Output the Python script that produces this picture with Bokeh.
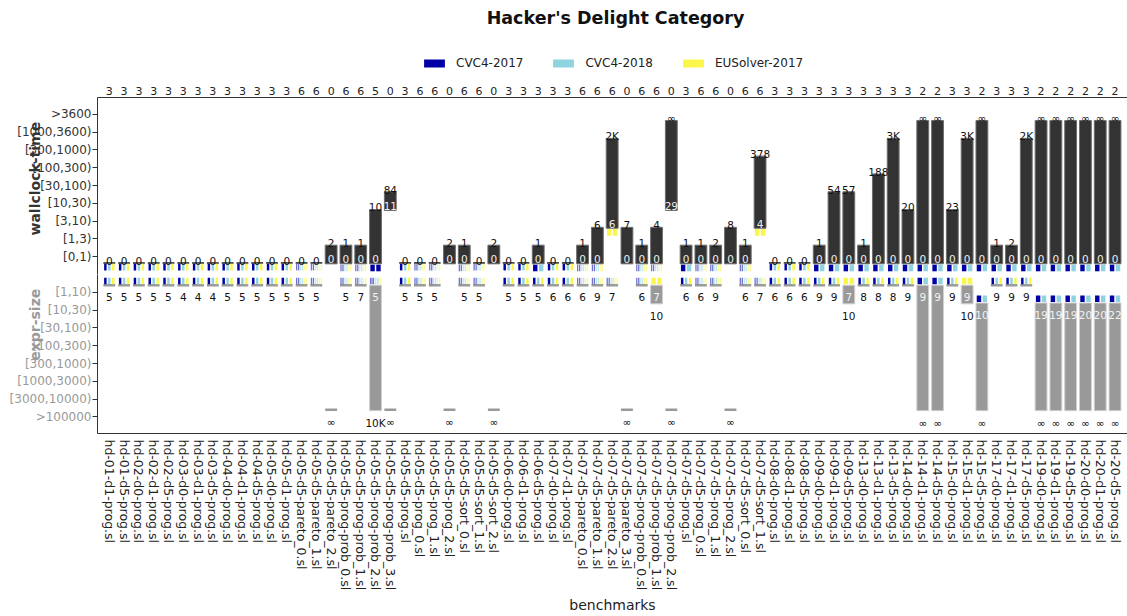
import math
from bokeh.plotting import figure
from bokeh.layouts import column
from bokeh.models import (ColumnDataSource, FixedTicker, LinearAxis, Range1d, Label,
                          Legend, LegendItem)
from bokeh.embed import file_html
from bokeh.resources import INLINE
from bokeh.core.properties import value

INF = float("inf")

# ---------------- data ----------------
benchmarks = [
    "hd-01-d1-prog.sl", "hd-01-d5-prog.sl", "hd-02-d0-prog.sl", "hd-02-d1-prog.sl", "hd-02-d5-prog.sl",
    "hd-03-d0-prog.sl", "hd-03-d1-prog.sl", "hd-03-d5-prog.sl", "hd-04-d0-prog.sl", "hd-04-d1-prog.sl",
    "hd-04-d5-prog.sl", "hd-05-d0-prog.sl", "hd-05-d1-prog.sl", "hd-05-d5-pareto_0.sl", "hd-05-d5-pareto_1.sl",
    "hd-05-d5-pareto_2.sl", "hd-05-d5-prog-prob_0.sl", "hd-05-d5-prog-prob_1.sl", "hd-05-d5-prog-prob_2.sl", "hd-05-d5-prog-prob_3.sl",
    "hd-05-d5-prog.sl", "hd-05-d5-prog_0.sl", "hd-05-d5-prog_1.sl", "hd-05-d5-prog_2.sl", "hd-05-d5-sort_0.sl",
    "hd-05-d5-sort_1.sl", "hd-05-d5-sort_2.sl", "hd-06-d0-prog.sl", "hd-06-d1-prog.sl", "hd-06-d5-prog.sl",
    "hd-07-d0-prog.sl", "hd-07-d1-prog.sl", "hd-07-d5-pareto_0.sl", "hd-07-d5-pareto_1.sl", "hd-07-d5-pareto_2.sl",
    "hd-07-d5-pareto_3.sl", "hd-07-d5-prog-prob_0.sl", "hd-07-d5-prog-prob_1.sl", "hd-07-d5-prog-prob_2.sl", "hd-07-d5-prog.sl",
    "hd-07-d5-prog_0.sl", "hd-07-d5-prog_1.sl", "hd-07-d5-prog_2.sl", "hd-07-d5-sort_0.sl", "hd-07-d5-sort_1.sl",
    "hd-08-d0-prog.sl", "hd-08-d1-prog.sl", "hd-08-d5-prog.sl", "hd-09-d0-prog.sl", "hd-09-d1-prog.sl",
    "hd-09-d5-prog.sl", "hd-13-d0-prog.sl", "hd-13-d1-prog.sl", "hd-13-d5-prog.sl", "hd-14-d0-prog.sl",
    "hd-14-d1-prog.sl", "hd-14-d5-prog.sl", "hd-15-d0-prog.sl", "hd-15-d1-prog.sl", "hd-15-d5-prog.sl",
    "hd-17-d0-prog.sl", "hd-17-d1-prog.sl", "hd-17-d5-prog.sl", "hd-19-d0-prog.sl", "hd-19-d1-prog.sl",
    "hd-19-d5-prog.sl", "hd-20-d0-prog.sl", "hd-20-d1-prog.sl", "hd-20-d5-prog.sl",
]

run_counts = [3, 3, 3, 3, 3, 3, 3, 3, 3, 3, 3, 3, 3, 6, 6, 0, 6, 6, 5, 0,
              3, 6, 6, 0, 6, 6, 0, 3, 3, 3, 3, 3, 6, 6, 6, 0, 6, 6, 0, 3,
              6, 6, 0, 6, 6, 3, 3, 3, 3, 3, 3, 3, 3, 3, 3, 2, 2, 3, 3, 2,
              3, 3, 3, 2, 2, 2, 2, 2, 2]

time_min = [0, 0, 0, 0, 0, 0, 0, 0, 0, 0, 0, 0, 0, 0, 0, 0, 0, 0, 0, 11,
            0, 0, 0, 0, 0, 0, 0, 0, 0, 0, 0, 0, 0, 0, 6, 0, 0, 0, 29, 0,
            0, 0, 0, 0, 4, 0, 0, 0, 0, 0, 0, 0, 0, 0, 0, 0, 0, 0, 0, 0,
            0, 0, 0, 0, 0, 0, 0, 0, 0]

time_max = [0, 0, 0, 0, 0, 0, 0, 0, 0, 0, 0, 0, 0, 0, 0, 2, 1, 1, 10, 84,
            0, 0, 0, 2, 1, 0, 2, 0, 0, 1, 0, 0, 1, 6, 2000, 7, 1, 4, INF, 1,
            1, 2, 8, 1, 378, 0, 0, 0, 1, 54, 57, 1, 188, 3000, 20, INF, INF, 23, 3000, INF,
            1, 2, 2000, INF, INF, INF, INF, INF, INF]

size_min = [5, 5, 5, 5, 5, 4, 4, 4, 5, 5, 5, 5, 5, 5, 5, INF, 5, 7, 5, INF,
            5, 5, 5, INF, 5, 5, INF, 5, 5, 5, 6, 6, 6, 9, 7, INF, 6, 7, INF, 6,
            6, 9, INF, 6, 7, 6, 6, 6, 9, 9, 7, 8, 8, 8, 9, 9, 9, 9, 9, 10,
            9, 9, 9, 19, 19, 19, 20, 20, 22]

size_max = [5, 5, 5, 5, 5, 4, 4, 4, 5, 5, 5, 5, 5, 5, 5, INF, 5, 7, 10000, INF,
            5, 5, 5, INF, 5, 5, INF, 5, 5, 5, 6, 6, 6, 9, 7, INF, 6, 10, INF, 6,
            6, 9, INF, 6, 7, 6, 6, 6, 9, 9, 10, 8, 8, 8, 9, INF, INF, 9, 10, INF,
            9, 9, 9, INF, INF, INF, INF, INF, INF]

# which solver runs reached the best time / best size (b=CVC4-2017, c=CVC4-2018, y=EUSolver-2017)
time_best = (["bcy"] * 13
             + ["bbccyy", "bbccyy", "", "bbccyy", "bbccyy", "bb", ""]
             + ["bcy", "bbccyy", "bbccyy", "", "bbccyy", "bbccyy", "", "bcy", "bcy", "bc"]
             + ["bcy", "bcy", "bbccyy", "bbccyy", "yy", "", "bbccyy", "bbccyy", "", "bc"]
             + ["bbccyy", "bbccyy", "", "bbccyy", "yy", "bcy", "bcy", "bcy"]
             + ["bc"] * 21)
size_best = (["bcy"] * 13
             + ["bbccyy", "bbccyy", "", "bbccyy", "bbccyy", "bbccy", ""]
             + ["bcy", "bbccyy", "bbccyy", "", "bbccyy", "bbccyy", "", "bcy", "bcy", "bcy"]
             + ["bcy", "bcy", "bbccyy", "bbccyy", "bbccyy", "", "bbccyy", "yy", "", "bcy"]
             + ["bbccyy", "bbccyy", "", "bbccyy", "bbccyy", "bcy", "bcy", "bcy", "bcy", "bcy"]
             + ["yy", "bcy", "bcy", "bcy", "bcy", "bc", "bc", "bcy", "yy", "bc"]
             + ["bcy"] * 3 + ["bc"] * 6)

time_labels = ["[0,1)", "[1,3)", "[3,10)", "[10,30)", "[30,100)", "[100,300)",
               "[300,1000)", "[1000,3600)", ">3600"]
size_labels = ["[1,10)", "[10,30)", "[30,100)", "[100,300)", "[300,1000)",
               "[1000,3000)", "[3000,10000)", ">100000"]
time_edges = [0, 1, 3, 10, 30, 100, 300, 1000, 3600]
size_edges = [1, 10, 30, 100, 300, 1000, 3000, 10000]

solvers = ["CVC4-2017", "CVC4-2018", "EUSolver-2017"]
solver_codes = ["b", "c", "y"]
solver_colors = ["#0000a6", "#8fd3e1", "#fbf64c"]

# ---------------- layout ----------------
W = 1127
H_HEAD, H_TOP, H_BOT = 81, 193, 342
B_LEFT = 97
TOP_AX = 16            # counts axis panel above the upper frame
B_BOTTOM = 183
XS, YS = 14.79, 17.8   # px per unit
FRAME_W = W - B_LEFT
X0 = 1 - 11.8 / XS
X1 = X0 + FRAME_W / XS
Y_TOP = (H_TOP - TOP_AX) / YS
Y_BOT = -(H_BOT - B_BOTTOM) / YS
BAR_W = 0.8
FONT = "DejaVu Sans"
NB = "\u00a0"
x_range = Range1d(X0, X1)


def tidx(v):
    if v == INF:
        return 9
    return sum(1 for e in time_edges if v >= e)


def sidx(v):
    if v == INF:
        return 8
    return sum(1 for e in size_edges if v >= e)


def fmt(v):
    if v == INF:
        return "\u221e"
    if v >= 1000:
        return "%dK" % round(v / 1000)
    return "%d" % v


xs = list(range(1, len(benchmarks) + 1))


def style_axis(ax, size, color):
    ax.major_label_text_font = FONT
    ax.major_label_text_font_size = size
    ax.major_label_text_color = color
    ax.minor_tick_out = 0
    ax.minor_tick_in = 0
    ax.major_tick_in = 0
    ax.axis_line_color = "#333333"
    ax.major_tick_line_color = "#333333"


def base_fig(h, y_range, top, bottom):
    f = figure(width=W, height=h, x_range=x_range, y_range=y_range,
               output_backend="svg", toolbar_location=None, title=None,
               x_axis_location="below" if bottom else None,
               min_border_left=B_LEFT, min_border_right=0,
               min_border_top=top, min_border_bottom=bottom)
    f.outline_line_color = None
    f.grid.visible = False
    f.background_fill_color = "white"
    f.border_fill_color = "white"
    return f


# ---- header (title + legend); its frame spans x = B_LEFT..W ----
ph = figure(width=W, height=H_HEAD, x_range=Range1d(B_LEFT, W), y_range=Range1d(H_HEAD, 0),
            output_backend="svg", toolbar_location=None, title=None,
            x_axis_location=None, y_axis_location=None,
            min_border_left=B_LEFT, min_border_right=0, min_border_top=0, min_border_bottom=0)
ph.outline_line_color = None
ph.grid.visible = False
ph.add_layout(Label(x=615, y=17, text="Hacker's Delight Category", text_font=FONT,
                    text_font_size="17.5px", text_font_style="bold", text_color="#111111",
                    text_align="center", text_baseline="middle"))
items = []
for name, col in zip(solvers, solver_colors):
    # legend-only renderer, kept outside the visible range
    r = ph.quad(left=[0], right=[1], bottom=[0], top=[1], fill_color=col, line_color=None)
    items.append(LegendItem(label=name, renderers=[r]))
legend = Legend(items=items, orientation="horizontal", location=(421 - B_LEFT, H_HEAD - 70),
                glyph_width=26, glyph_height=10, label_standoff=9, spacing=27,
                padding=0, margin=0, border_line_color=None, background_fill_alpha=0,
                label_text_font=FONT, label_text_font_size="12px", label_text_color="#222222")
ph.add_layout(legend, "center")

# ---- upper half: wallclock-time ----
p1 = base_fig(H_TOP, Range1d(0, Y_TOP), TOP_AX, 0)
# ---- lower half: expr-size ----
p2 = base_fig(H_BOT, Range1d(Y_BOT, 0), 0, B_BOTTOM)

tbox = dict(left=[], right=[], bottom=[], top=[])
tline = dict(x0=[], x1=[], y=[])
ttxt = dict(x=[], y=[], t=[])
tin = dict(x=[], y=[], t=[])
sbox = dict(left=[], right=[], bottom=[], top=[])
sline = dict(x0=[], x1=[], y=[])
stxt = dict(x=[], y=[], t=[])
sin = dict(x=[], y=[], t=[])
sq_t = {c: dict(left=[], right=[], bottom=[], top=[], alpha=[]) for c in solver_codes}
sq_s = {c: dict(left=[], right=[], bottom=[], top=[], alpha=[]) for c in solver_codes}


def add_squares(store, x, code, y0, y1):
    n = len(code)
    if n == 0:
        return
    cell = BAR_W / n
    gap = 0.1 if n <= 3 else 0.045
    a = 1.0 if n <= 3 else 0.55
    for k, ch in enumerate(code):
        l = x - BAR_W / 2 + k * cell + gap / 2
        store[ch]["left"].append(l)
        store[ch]["right"].append(l + cell - gap)
        store[ch]["bottom"].append(y0)
        store[ch]["top"].append(y1)
        store[ch]["alpha"].append(a)


for i, x in enumerate(xs):
    lo, hi = time_min[i], time_max[i]
    if hi > lo:
        b = tidx(lo) - 0.4
        t = tidx(hi) - 0.35
        tbox["left"].append(x - BAR_W / 2); tbox["right"].append(x + BAR_W / 2)
        tbox["bottom"].append(b); tbox["top"].append(t)
        tin["x"].append(x); tin["y"].append(b + 0.25); tin["t"].append(fmt(lo))
    else:
        b = t = tidx(hi) - 0.35
        tline["x0"].append(x - BAR_W / 2); tline["x1"].append(x + BAR_W / 2); tline["y"].append(b)
    ttxt["x"].append(x); ttxt["y"].append(t + 0.12); ttxt["t"].append(fmt(hi))
    add_squares(sq_t, x, time_best[i], b - 0.42, b - 0.05)

    lo, hi = size_min[i], size_max[i]
    if hi > lo:
        t = -(sidx(lo) - 0.4)
        b = -(sidx(hi) - 0.35)
        sbox["left"].append(x - BAR_W / 2); sbox["right"].append(x + BAR_W / 2)
        sbox["bottom"].append(b); sbox["top"].append(t)
        sin["x"].append(x); sin["y"].append(t - 0.68); sin["t"].append(fmt(lo))
    else:
        t = b = -(sidx(hi) - 0.4)
        sline["x0"].append(x - BAR_W / 2); sline["x1"].append(x + BAR_W / 2); sline["y"].append(b)
    stxt["x"].append(x); stxt["y"].append(b - 0.68); stxt["t"].append(fmt(hi))
    add_squares(sq_s, x, size_best[i], t + 0.05, t + 0.42)

p1.quad(left="left", right="right", bottom="bottom", top="top", source=ColumnDataSource(tbox),
        fill_color="#333333", line_color="#6e6e6e", line_width=1)
p1.segment(x0="x0", x1="x1", y0="y", y1="y", source=ColumnDataSource(tline),
           line_color="#222222", line_width=1.5)
p2.quad(left="left", right="right", bottom="bottom", top="top", source=ColumnDataSource(sbox),
        fill_color="#999999", line_color="#cfcfcf", line_width=1)
p2.segment(x0="x0", x1="x1", y0="y", y1="y", source=ColumnDataSource(sline),
           line_color="#999999", line_width=2.5)

for code, col in zip(solver_codes, solver_colors):
    p1.quad(left="left", right="right", bottom="bottom", top="top", source=ColumnDataSource(sq_t[code]),
            fill_color=col, fill_alpha="alpha", line_color=None)
    p2.quad(left="left", right="right", bottom="bottom", top="top", source=ColumnDataSource(sq_s[code]),
            fill_color=col, fill_alpha="alpha", line_color=None)

txt_kw = dict(text_font=value(FONT), text_font_size="10.5px", text_align="center",
              text_baseline="alphabetic")
p1.text(x="x", y="y", text="t", source=ColumnDataSource(ttxt), text_color="#111111", **txt_kw)
p1.text(x="x", y="y", text="t", source=ColumnDataSource(tin), text_color="#eeeeee", **txt_kw)
p2.text(x="x", y="y", text="t", source=ColumnDataSource(stxt), text_color="#111111", **txt_kw)
p2.text(x="x", y="y", text="t", source=ColumnDataSource(sin), text_color="#f2f2f2", **txt_kw)

# ---- axes ----
ya1 = p1.yaxis[0]
ya1.ticker = FixedTicker(ticks=list(range(0, len(time_labels) + 1)))
ov1 = {0: ""}
for k, lab in enumerate(time_labels, start=1):
    ov1[k] = lab
ya1.major_label_overrides = ov1
style_axis(ya1, "12px", "#333333")
ya1.major_label_standoff = 1
ya1.major_tick_out = 5
ya1.axis_label = NB * 3 + "wallclock-time"
ya1.axis_label_text_font = FONT
ya1.axis_label_text_font_size = "14px"
ya1.axis_label_text_font_style = "bold"
ya1.axis_label_text_color = "#333333"
ya1.axis_label_standoff = -29

top_ax = LinearAxis(ticker=FixedTicker(ticks=xs),
                    major_label_overrides={x: str(c) for x, c in zip(xs, run_counts)})
style_axis(top_ax, "11px", "#222222")
top_ax.major_label_standoff = 3
top_ax.major_tick_out = 0
p1.add_layout(top_ax, "above")

ya2 = p2.yaxis[0]
ya2.ticker = FixedTicker(ticks=[-k for k in range(1, len(size_labels) + 1)])
ya2.major_label_overrides = {-k: lab for k, lab in enumerate(size_labels, start=1)}
style_axis(ya2, "12px", "#999999")
ya2.major_label_standoff = 1
ya2.major_tick_out = 5
ya2.axis_label = NB * 12 + "expr-size"
ya2.axis_label_text_font = FONT
ya2.axis_label_text_font_size = "14px"
ya2.axis_label_text_font_style = "bold"
ya2.axis_label_text_color = "#999999"
ya2.axis_label_standoff = -36

xa = p2.xaxis[0]
xa.ticker = FixedTicker(ticks=xs)
xa.major_label_overrides = {x: n for x, n in zip(xs, benchmarks)}
xa.major_label_orientation = "vertical"
style_axis(xa, "12.5px", "#222222")
xa.major_label_standoff = 6
xa.major_tick_out = 0
xa.axis_label = "benchmarks"
xa.axis_label_text_font = FONT
xa.axis_label_text_font_size = "14px"
xa.axis_label_text_font_style = "normal"
xa.axis_label_text_color = "#222222"
xa.axis_label_standoff = 4

layout = column(ph, p1, p2, spacing=0)
open("out.html", "w").write(file_html(layout, INLINE))
